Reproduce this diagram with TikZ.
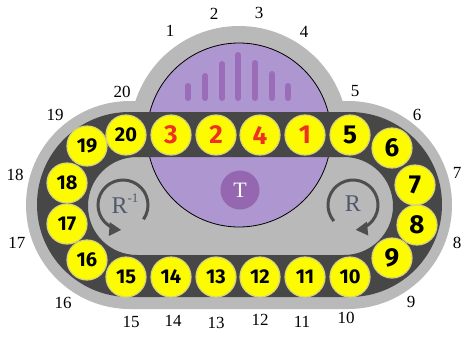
\documentclass[tikz,border=0pt]{standalone}
\usepackage{fontspec}
\setmainfont{Liberation Serif}
\newfontfamily\hand{Fira Sans}
\usetikzlibrary{arrows.meta}
\definecolor{outg}{HTML}{B9B9B9}
\definecolor{darkt}{HTML}{474747}
\definecolor{purp}{HTML}{AE96D0}
\definecolor{barc}{HTML}{9B6DB8}
\definecolor{tpurp}{HTML}{9467B0}
\definecolor{ballY}{HTML}{FDFB00}
\definecolor{ballE}{HTML}{D8D47A}
\definecolor{redn}{HTML}{EE3124}
\definecolor{arrowc}{HTML}{4E4E4E}
\definecolor{rtext}{HTML}{4D5A6B}
\begin{document}
\begin{tikzpicture}[x=1pt,y=-1pt,
  ball/.style={circle, fill=ballY, draw=ballE, line width=1.2, minimum size=40, inner sep=0,
    font=\hand\bfseries\fontsize{26}{26}\selectfont},
  ballt/.style={ball, font=\hand\bfseries\fontsize{20}{20}\selectfont},
  lab/.style={inner sep=0, font=\fontsize{17}{17}\selectfont},
  barline/.style={barc, line width=6, line cap=round},
  rot/.style={arrowc, line width=3, -{Triangle[length=12,width=13]}},
  rlab/.style={inner sep=0, text=rtext, font=\fontsize{24}{24}\selectfont}]
\useasboundingbox (0,0) rectangle (464,338);
\fill[white] (0,0) rectangle (464,338);
% outer gray body
\fill[outg] (239,135) circle[radius=109];
\fill[outg, rounded corners=103.9] (26,101) rectangle (452,309);
% purple dome
\fill[purp] (239,135) circle[radius=92];
\draw[black, line width=0.8] (239,135) circle[radius=92];
% bars
\foreach \x/\t in {188/83,205/73,222/61,238/52,255/60,272/71,288/83}
  \draw[barline] (\x,98) -- (\x,\t+3);
% dark track
\fill[darkt, even odd rule] [rounded corners=92.4] (37,112) rectangle (442,297)
  [rounded corners=48.9] (88,157) rectangle (393,255);
% T
\node[circle, fill=tpurp, minimum size=39, inner sep=0, text=white,
  font=\fontsize{22}{22}\selectfont] (T) at (240,190) {T};
% rotation arrows
\draw[rot] (123,205) ++(35:25) arc[start angle=35, end angle=-266, radius=25];
\draw[rot] (353,205) ++(-220:25) arc[start angle=-220, end angle=84, radius=25];
\node[rlab] (Rinv) at (125,204) {R\raisebox{0.45em}{\fontsize{13}{13}\selectfont -1}};
\node[rlab] (R) at (353,204) {R};
% balls
\node[ballt] (b20) at (126,135) {20};
\node[ball] (b3) at (171,135) {\textcolor{redn}{3}};
\node[ball] (b2) at (216,135) {\textcolor{redn}{2}};
\node[ball] (b4) at (260,135) {\textcolor{redn}{4}};
\node[ball] (b1) at (305,135) {\textcolor{redn}{1}};
\node[ball] (b5) at (350,135) {5};
\node[ball] (b6) at (392,148) {6};
\node[ball] (b7) at (415,185) {7};
\node[ball] (b8) at (417,225) {8};
\node[ball] (b9) at (392,258) {9};
\node[ballt] (b10) at (350,277) {10};
\node[ballt] (b11) at (305,277) {11};
\node[ballt] (b12) at (260,277) {12};
\node[ballt] (b13) at (216,277) {13};
\node[ballt] (b14) at (171,277) {14};
\node[ballt] (b15) at (126,277) {15};
\node[ballt] (b16) at (87,260) {16};
\node[ballt] (b17) at (67,224) {17};
\node[ballt] (b18) at (67,183) {18};
\node[ballt] (b19) at (87,146) {19};
% outer labels
\node[lab] (l1) at (170,31) {1};
\node[lab] (l2) at (214,14) {2};
\node[lab] (l3) at (259,13) {3};
\node[lab] (l4) at (304,32) {4};
\node[lab] (l5) at (355,91) {5};
\node[lab] (l6) at (417,115) {6};
\node[lab] (l7) at (457,173) {7};
\node[lab] (l8) at (457,243) {8};
\node[lab] (l9) at (411,302) {9};
\node[lab] (l10) at (346,318) {10};
\node[lab] (l11) at (302,322) {11};
\node[lab] (l12) at (260,320) {12};
\node[lab] (l13) at (216,323) {13};
\node[lab] (l14) at (173,321) {14};
\node[lab] (l15) at (131,322) {15};
\node[lab] (l16) at (63,303) {16};
\node[lab] (l17) at (17,243) {17};
\node[lab] (l18) at (15,175) {18};
\node[lab] (l19) at (55,115) {19};
\node[lab] (l20) at (122,92) {20};
\end{tikzpicture}
\end{document}
